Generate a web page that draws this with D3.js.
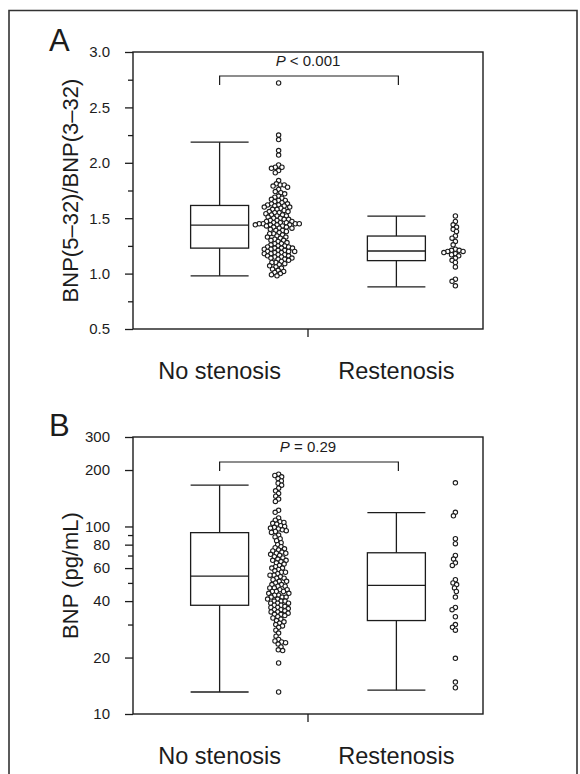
<!DOCTYPE html>
<html>
<head>
<meta charset="utf-8">
<script src="https://cdn.jsdelivr.net/npm/d3@7"></script>
<style>
body { margin: 0; background: #fff; }
svg { display: block; }
</style>
</head>
<body>
<div id="chart"></div>
<script>
const groups = ["No stenosis", "Restenosis"];

// panel A: BNP(5-32)/BNP(3-32)
const ratioNo = [2.72, 2.25, 2.21, 2.11, 2.07, 1.98, 1.96, 1.96, 1.95, 1.93, 1.91,
  1.84, 1.81, 1.80, 1.80, 1.79, 1.78, 1.76,
  1.74, 1.73, 1.72, 1.70, 1.69, 1.68, 1.67, 1.66, 1.66, 1.65, 1.64, 1.63, 1.63, 1.62, 1.62, 1.61, 1.61,
  1.60, 1.60, 1.59, 1.58, 1.58, 1.57, 1.56, 1.56, 1.55, 1.55, 1.54, 1.53, 1.53, 1.52, 1.52, 1.51, 1.50,
  1.50, 1.49, 1.49, 1.48, 1.48, 1.47, 1.47, 1.46, 1.46, 1.46, 1.45, 1.45, 1.45, 1.45, 1.44, 1.44, 1.44, 1.44,
  1.43, 1.43, 1.42, 1.42, 1.41, 1.41, 1.40, 1.39, 1.39, 1.38, 1.37, 1.36, 1.36, 1.35, 1.34, 1.33, 1.33,
  1.32, 1.31, 1.30, 1.30, 1.29, 1.28, 1.27, 1.27, 1.26, 1.25, 1.25, 1.24, 1.24, 1.23, 1.23, 1.23, 1.22, 1.22,
  1.21, 1.21, 1.20, 1.20, 1.20, 1.19, 1.19, 1.18, 1.18, 1.17, 1.17, 1.16, 1.16, 1.15, 1.15, 1.14, 1.14,
  1.13, 1.13, 1.12, 1.11, 1.10, 1.10, 1.09, 1.08, 1.07, 1.06, 1.05, 1.04, 1.03, 1.02, 1.01, 1.00, 0.99, 0.98];
const ratioRe = [1.52, 1.47, 1.44, 1.42, 1.40, 1.38, 1.34, 1.32, 1.29, 1.26, 1.22, 1.21, 1.21,
  1.20, 1.20, 1.19, 1.18, 1.17, 1.16, 1.14, 1.12, 1.10, 1.06, 0.95, 0.93, 0.89];
const ratioLo = [0.98, 0.88];
const ratioQ1 = [1.23, 1.117];
const ratioMed = [1.438, 1.204];
const ratioQ3 = [1.615, 1.339];
const ratioHi = [2.186, 1.519];
const ratioTicks = [0.5, 1.0, 1.5, 2.0, 2.5, 3.0];
const ratioMinor = [0.75, 1.25, 1.75, 2.25, 2.75];

// panel B: BNP (pg/mL), log axis
const bnpNo = [190, 187, 184, 180, 175, 170, 166, 160, 155, 150, 145, 140, 136, 122, 119,
  111, 108, 106, 105, 104, 103, 101, 100, 99, 98, 97, 96, 95, 94, 93,
  90, 88, 86, 84, 82, 80, 78, 77, 76, 75, 74, 73, 72, 72, 71, 70, 69, 68, 67, 66, 66, 65, 64, 63, 62,
  61, 60, 60, 59, 58, 57, 57, 56, 55, 55,
  54, 53, 53, 52, 51, 51, 50, 49, 49, 48, 48, 47, 47, 46, 46, 45, 45, 45, 44, 44, 43, 43, 42, 42, 42,
  41, 41, 40, 40, 40, 39, 39, 39, 38, 38,
  37.5, 37, 37, 36.5, 36, 36, 35.5, 35, 35, 34.5, 34, 34, 33.5, 33, 32.5, 32, 31.5, 31, 30.5, 30,
  29.5, 29, 28, 27, 26, 25, 24.5, 24.2, 24, 23.6, 22.8, 22, 21.8, 18.7, 13.1];
const bnpRe = [171, 119, 114, 86, 81, 70, 67, 64, 62, 52, 50, 49, 47, 45, 42, 37, 36, 33, 30, 29, 28,
  19.8, 14.8, 13.8];
const bnpLo = [13.1, 13.4];
const bnpQ1 = [38, 31.5];
const bnpMed = [54.4, 48.5];
const bnpQ3 = [92.7, 72.4];
const bnpHi = [166, 118.6];
const bnpTicks = [10, 20, 40, 60, 80, 100, 200, 300];
const bnpMinor = [30, 50, 70, 90];

const width = 580, height = 774;
const ink = "#1c1c1c";
const font = "'Liberation Sans', Arial, Helvetica, sans-serif";
const left = 133, right = 483, plotH = 277;
const boxHalf = 29, dotShift = 59, dotR = 2.2;

const svg = d3.select("#chart").append("svg")
  .attr("width", width)
  .attr("height", height)
  .style("font-family", font);

// outer frame of the figure
svg.append("path")
  .attr("d", `M9,${height + 5}V10.5H577V${height + 5}`)
  .attr("fill", "none")
  .attr("stroke", "#333")
  .attr("stroke-width", 1.6);

const x = d3.scalePoint().domain(groups).range([left, right]).padding(0.49);

// simple beeswarm: each dot goes as close to the centre line as it can,
// dots are allowed to overlap a little like in the original
function swarm(values, y, sep) {
  const pts = values.map(v => ({v: v, y: y(v)})).sort((a, b) => a.y - b.y);
  const placed = [];
  pts.forEach(p => {
    const near = placed.filter(q => Math.abs(q.y - p.y) < sep);
    const cands = [0];
    near.forEach(q => {
      const dx = Math.sqrt(sep * sep - (q.y - p.y) ** 2);
      cands.push(q.dx - dx, q.dx + dx);
    });
    cands.sort((a, b) => Math.abs(a) - Math.abs(b) || a - b);
    for (const c of cands) {
      const hit = near.some(q => (q.dx - c) ** 2 + (q.y - p.y) ** 2 < sep * sep - 0.01);
      if (!hit) { p.dx = c; break; }
    }
    placed.push(p);
  });
  return placed;
}

function drawPanel(cfg) {
  const top = cfg.top, bottom = top + plotH;
  const y = cfg.y.range([bottom, top]);
  const g = svg.append("g");

  // plot frame
  g.append("rect")
    .attr("x", left).attr("y", top)
    .attr("width", right - left).attr("height", bottom - top)
    .attr("fill", "none").attr("stroke", ink).attr("stroke-width", 1.4);

  // y axis, labelled and minor ticks
  const major = g.append("g").attr("transform", `translate(${left},0)`)
    .call(d3.axisLeft(y).tickValues(cfg.ticks).tickFormat(cfg.fmt).tickSize(8).tickPadding(15));
  major.select(".domain").remove();
  major.selectAll("line").attr("stroke", ink).attr("stroke-width", 1.3);
  major.selectAll("text").attr("font-size", 15).attr("font-family", font).attr("fill", ink);
  const minor = g.append("g").attr("transform", `translate(${left},0)`)
    .call(d3.axisLeft(y).tickValues(cfg.minor).tickFormat("").tickSize(5));
  minor.select(".domain").remove();
  minor.selectAll("line").attr("stroke", ink).attr("stroke-width", 1.3);

  // single tick between the groups
  const mid = (x(groups[0]) + x(groups[1])) / 2;
  g.append("line")
    .attr("x1", mid).attr("x2", mid).attr("y1", bottom).attr("y2", bottom + 8)
    .attr("stroke", ink).attr("stroke-width", 1.3);

  // box plots
  groups.forEach((name, i) => {
    const cx = x(name);
    const b = g.append("g").attr("stroke", ink).attr("stroke-width", 1.3).attr("fill", "none");
    b.append("line").attr("x1", cx).attr("x2", cx).attr("y1", y(cfg.hi[i])).attr("y2", y(cfg.q3[i]));
    b.append("line").attr("x1", cx).attr("x2", cx).attr("y1", y(cfg.q1[i])).attr("y2", y(cfg.lo[i]));
    [cfg.hi[i], cfg.lo[i], cfg.med[i]].forEach(v => {
      b.append("line").attr("x1", cx - boxHalf).attr("x2", cx + boxHalf).attr("y1", y(v)).attr("y2", y(v));
    });
    b.append("rect")
      .attr("x", cx - boxHalf).attr("y", y(cfg.q3[i]))
      .attr("width", 2 * boxHalf).attr("height", y(cfg.q1[i]) - y(cfg.q3[i]));
  });

  // individual values
  cfg.series.forEach((vals, i) => {
    const cx = x(groups[i]) + dotShift;
    g.append("g").selectAll("circle")
      .data(swarm(vals, y, 4))
      .enter().append("circle")
      .attr("cx", d => cx + d.dx)
      .attr("cy", d => d.y)
      .attr("r", dotR)
      .attr("fill", "#fff")
      .attr("stroke", ink)
      .attr("stroke-width", 1.1);
  });

  // significance bracket
  const x0 = x(groups[0]), x1 = x(groups[1]) + 2;
  g.append("path")
    .attr("d", `M${x0},${top + cfg.bracket + 9}V${top + cfg.bracket}H${x1}V${top + cfg.bracket + 9}`)
    .attr("fill", "none").attr("stroke", ink).attr("stroke-width", 1.2);
  const pt = g.append("text")
    .attr("x", mid).attr("y", top + cfg.bracket - 10)
    .attr("text-anchor", "middle")
    .attr("font-size", 15).attr("fill", ink);
  pt.append("tspan").attr("font-style", "italic").text("P");
  pt.append("tspan").text(cfg.pText);

  // category labels
  groups.forEach(name => {
    g.append("text")
      .attr("x", x(name)).attr("y", bottom + 50)
      .attr("text-anchor", "middle")
      .attr("font-size", 23.5).attr("fill", ink)
      .text(name);
  });

  // y title
  g.append("text")
    .attr("transform", `translate(78,${(top + bottom) / 2}) rotate(-90)`)
    .attr("text-anchor", "middle")
    .attr("font-size", 22).attr("fill", ink)
    .text(cfg.title);

  // panel letter
  g.append("text")
    .attr("x", 49).attr("y", top - 1)
    .attr("font-size", 31).attr("fill", ink)
    .text(cfg.letter);
}

drawPanel({
  letter: "A", top: 52,
  y: d3.scaleLinear().domain([0.5, 3.0]),
  ticks: ratioTicks, minor: ratioMinor, fmt: d3.format(".1f"),
  series: [ratioNo, ratioRe],
  lo: ratioLo, q1: ratioQ1, med: ratioMed, q3: ratioQ3, hi: ratioHi,
  bracket: 24, pText: " < 0.001",
  title: "BNP(5\u201332)/BNP(3\u201332)"
});

drawPanel({
  letter: "B", top: 437,
  y: d3.scaleLog().domain([10, 300]),
  ticks: bnpTicks, minor: bnpMinor, fmt: d3.format("d"),
  series: [bnpNo, bnpRe],
  lo: bnpLo, q1: bnpQ1, med: bnpMed, q3: bnpQ3, hi: bnpHi,
  bracket: 25, pText: " = 0.29",
  title: "BNP (pg/mL)"
});
</script>
</body>
</html>
